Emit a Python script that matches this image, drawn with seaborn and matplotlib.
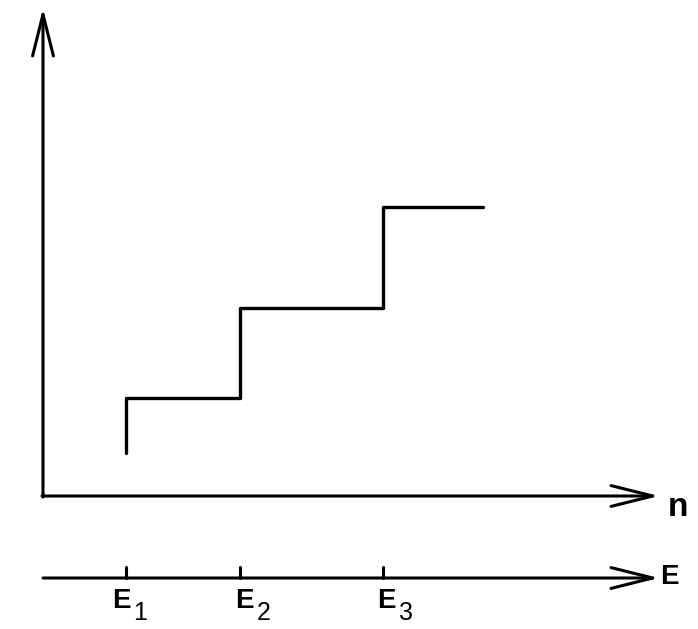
# -*- coding: utf-8 -*-
"""
阶梯图：n 随 E 的变化（E1, E2, E3 处跳变）
"""
import numpy as np
import pandas as pd
import matplotlib.pyplot as plt
import seaborn as sns

# 数据（单位：每单位 100 像素）
e_edges = [0.83, 1.97, 3.40]        # E1, E2, E3 的位置
e_subs = ['1', '2', '3']
n_levels = [0.43, 0.98, 1.88, 2.89]  # 起点及每级台阶高度
e_end = 4.40                          # 最后一段台阶的终点

sns.set_style('white')
plt.rcParams.update({
    'font.family': ['Liberation Sans', 'DejaVu Sans'],
    'text.color': 'black',
})

fig = plt.figure(figsize=(6.98, 6.29), dpi=100)
ax = fig.add_axes([0, 0, 1, 1])
ax.set_xlim(-0.43, 6.55)
ax.set_ylim(-1.33, 4.96)
ax.axis('off')

# 阶梯线
x_step = [e_edges[0]] + e_edges + [e_end]
y_step = n_levels + [n_levels[-1]]
df = pd.DataFrame({'E': x_step, 'n': y_step})
sns.lineplot(data=df, x='E', y='n', estimator=None, sort=False,
             drawstyle='steps-post', color='black', lw=2.4, ax=ax)

# 坐标轴箭头
arrow = dict(arrowstyle='->,head_length=30,head_width=7.5', mutation_scale=1,
             color='black', lw=2.2, shrinkA=0, shrinkB=0)
y_e = -0.82
ax.annotate('', xy=(0, 4.88), xytext=(0, -0.01), arrowprops=arrow)
ax.annotate('', xy=(6.16, 0), xytext=(-0.01, 0), arrowprops=arrow)
ax.annotate('', xy=(6.16, y_e), xytext=(0, y_e), arrowprops=arrow)

# E 轴刻度与标签（E 粗体 + 下标）
lab_shift = [-0.14, -0.05, -0.06]
for xe, sub, dx in zip(e_edges, e_subs, lab_shift):
    ax.plot([xe, xe], [y_e, y_e + 0.11], color='black', lw=2.2)
    x0 = xe + dx
    ax.text(x0, -1.12, 'E', ha='left', va='baseline', fontsize=20, fontweight='bold')
    ax.text(x0 + 0.215, -1.24, sub, ha='left', va='baseline', fontsize=18)

ax.text(6.35, -0.12, 'n', ha='center', va='center', fontsize=24, fontweight='bold')
ax.text(6.26, y_e + 0.01, 'E', ha='center', va='center', fontsize=20, fontweight='bold')

fig.savefig('out.png', dpi=100)
